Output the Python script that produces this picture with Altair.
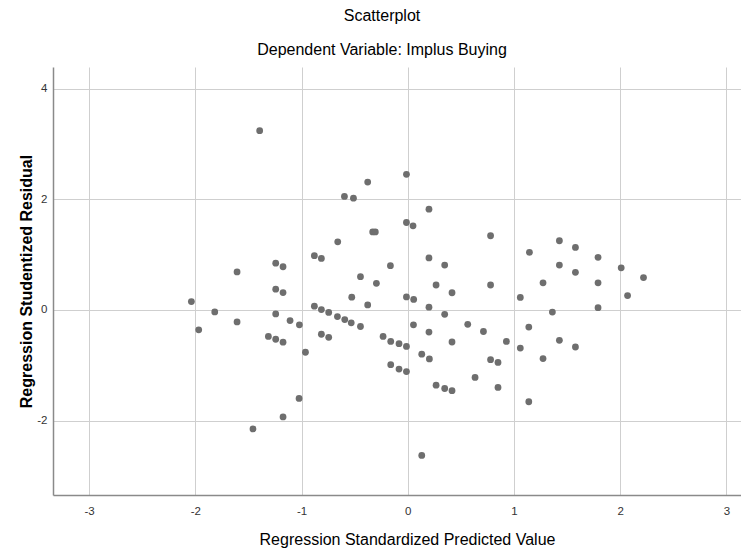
import altair as alt
import pandas as pd

predicted = [
    -1.394, -0.596, -0.511, -0.012, -0.377, 0.200, -0.012, 0.050, -0.330, -0.305,
    -0.659, 0.780, 1.146, 1.428, 1.579, -0.879, -0.813, 0.200, 0.348, -0.163,
    -1.243, -1.174, -1.607, 1.792, 1.428, 1.579, 2.010, 2.220, -0.445, -0.295,
    0.267, 0.780, 1.274, 1.792, 0.417, -1.243, -1.174, 2.070, 1.060, -0.527,
    -0.012, 0.056, -2.037, -0.879, -0.377, 0.200, 1.792, -0.813, -1.817, -0.744,
    -1.243, 0.348, 1.362, -0.662, -0.593, -1.108, -1.607, -0.532, -1.020, 0.054,
    0.565, -0.445, 1.140, -1.968, 0.200, 0.713, -0.813, -1.312, -0.744, -0.232,
    -1.243, -0.160, 0.417, 0.929, 1.428, -1.174, -0.082, -0.012, 1.060, 1.579,
    -0.963, 0.132, 0.204, 1.274, 0.780, 0.850, -0.160, -0.082, -0.012, 0.634,
    0.267, 0.348, 0.417, 0.850, -1.023, 1.140, -1.174, -1.457, 0.132,
]
residual = [
    3.24, 2.05, 2.02, 2.45, 2.31, 1.82, 1.58, 1.52, 1.41, 1.41,
    1.23, 1.34, 1.04, 1.25, 1.13, 0.98, 0.93, 0.94, 0.81, 0.80,
    0.845, 0.78, 0.687, 0.95, 0.81, 0.68, 0.76, 0.585, 0.60, 0.48,
    0.45, 0.45, 0.49, 0.49, 0.31, 0.374, 0.313, 0.26, 0.225, 0.23,
    0.235, 0.19, 0.15, 0.067, 0.09, 0.05, 0.04, 0.006, -0.036, -0.045,
    -0.072, -0.08, -0.04, -0.12, -0.175, -0.193, -0.217, -0.233, -0.27, -0.27,
    -0.26, -0.30, -0.31, -0.36, -0.40, -0.39, -0.44, -0.48, -0.495, -0.48,
    -0.53, -0.57, -0.58, -0.57, -0.55, -0.584, -0.61, -0.66, -0.69, -0.67,
    -0.765, -0.80, -0.886, -0.88, -0.90, -0.95, -0.99, -1.07, -1.115, -1.22,
    -1.36, -1.42, -1.46, -1.40, -1.60, -1.66, -1.935, -2.15, -2.63,
]
x_ticks = [-3, -2, -1, 0, 1, 2, 3]
y_ticks = [-2, 0, 2, 4]

df = pd.DataFrame({"pred": predicted, "resid": residual})

font = "Liberation Sans, Arial, sans-serif"

chart = (
    alt.Chart(df)
    .mark_circle(size=46, opacity=1, color="#6e6e6e")
    .encode(
        x=alt.X(
            "pred:Q",
            scale=alt.Scale(domain=[-3.34, 3.138], nice=False, zero=False),
            axis=alt.Axis(
                title="Regression Standardized Predicted Value",
                values=x_ticks,
                labelExpr="toString(datum.value)",
                ticks=False,
                labelPadding=10,
                titlePadding=15,
                titleFontSize=16,
                titleFontWeight="normal",
                titleX=354,
                titleAlign="center",
            ),
        ),
        y=alt.Y(
            "resid:Q",
            scale=alt.Scale(domain=[-3.345, 4.39], nice=False, zero=False),
            axis=alt.Axis(
                title="Regression Studentized Residual",
                values=y_ticks,
                labelExpr="toString(datum.value)",
                ticks=False,
                labelPadding=6,
                titlePadding=2,
                titleFontSize=16,
                titleFontWeight="bold",
            ),
        ),
    )
    .properties(
        width=688,
        height=428,
        title=alt.TitleParams(
            text="Scatterplot",
            subtitle="Dependent Variable: Implus Buying",
            anchor="middle",
            font=font,
            fontSize=16,
            fontWeight="normal",
            color="#000000",
            subtitleFont=font,
            subtitleFontSize=16,
            subtitleColor="#000000",
            subtitlePadding=18,
            offset=9,
            dx=-15,
        ),
        autosize=alt.AutoSizeParams(type="none"),
        padding={"left": 45, "top": 59, "right": 0, "bottom": 56},
    )
    .configure_view(stroke=None)
    .configure_axis(
        gridColor="#cfcfcf",
        gridWidth=1,
        domainColor="#8a8a8a",
        domainWidth=1.5,
        labelFont=font,
        labelFontSize=11.5,
        labelColor="#333333",
        titleFont=font,
        titleColor="#000000",
    )
)

chart.save("out.html", embed_options={"renderer": "svg", "actions": False})
